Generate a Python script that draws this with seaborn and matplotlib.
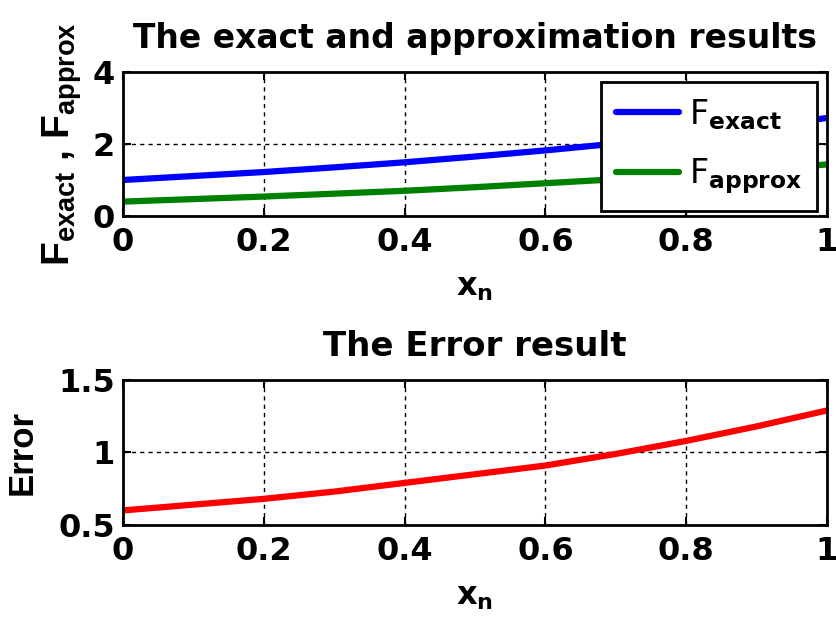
import matplotlib
matplotlib.use("Agg")
import matplotlib.pyplot as plt
import seaborn as sns
import pandas as pd

x_n = [0.0, 0.1, 0.2, 0.3, 0.4, 0.5, 0.6, 0.7, 0.8, 0.9, 1.0]
f_exact = [1.00, 1.11, 1.22, 1.35, 1.49, 1.65, 1.82, 2.01, 2.23, 2.46, 2.72]
f_approx = [0.40, 0.47, 0.54, 0.62, 0.70, 0.80, 0.91, 1.02, 1.15, 1.28, 1.43]
error = [0.60, 0.64, 0.68, 0.73, 0.79, 0.85, 0.91, 0.99, 1.08, 1.18, 1.29]

x_ticks = [0, 0.2, 0.4, 0.6, 0.8, 1]
x_tick_labels = ["0", "0.2", "0.4", "0.6", "0.8", "1"]
top_y_ticks = [0, 2, 4]
bot_y_ticks = [0.5, 1, 1.5]
bot_y_labels = ["0.5", "1", "1.5"]

sns.set_style("white")
plt.rcParams['font.family'] = ['DejaVu Sans']
plt.rcParams['mathtext.fontset'] = 'custom'
plt.rcParams['mathtext.rm'] = 'DejaVu Sans'
plt.rcParams['mathtext.it'] = 'DejaVu Sans'
plt.rcParams['mathtext.bf'] = 'DejaVu Sans:bold'
plt.rcParams['mathtext.sf'] = 'Liberation Sans:bold'
for k in ['text.color', 'axes.labelcolor', 'xtick.color', 'ytick.color']:
    plt.rcParams[k] = 'black'

df = pd.DataFrame({'x': x_n, 'exact': f_exact, 'approx': f_approx, 'err': error})

fig = plt.figure(figsize=(8.37, 6.19), dpi=100)
ax1 = fig.add_axes([0.147, 0.651, 0.841, 0.233])
ax2 = fig.add_axes([0.147, 0.152, 0.841, 0.234])


def style_axes(ax):
    ax.set_xlim(0, 1)
    ax.set_xticks(x_ticks)
    ax.set_xticklabels(x_tick_labels, fontsize=23, fontweight='bold')
    ax.grid(True, color='black', linestyle=(0, (3, 3)), linewidth=1.0)
    for s in ax.spines.values():
        s.set_color('black')
        s.set_linewidth(2.0)
    ax.tick_params(direction='in', length=6, width=1.5, color='black',
                   top=True, right=True, bottom=True, left=True)
    ax.tick_params(axis='x', pad=8)
    ax.tick_params(axis='y', pad=6)
    ax.set_axisbelow(True)


sns.lineplot(data=df, x='x', y='exact', ax=ax1, color='#0000ff', linewidth=4.5,
             label=r'F$_{\mathbf{exact}}$')
sns.lineplot(data=df, x='x', y='approx', ax=ax1, color='#008000', linewidth=4.5,
             label=r'F$_{\mathbf{approx}}$')
style_axes(ax1)
ax1.set_ylim(0, 4)
ax1.set_yticks(top_y_ticks)
ax1.set_yticklabels([str(t) for t in top_y_ticks], fontsize=23, fontweight='bold')
ax1.set_title("The exact and approximation results", fontsize=23.8, fontweight='bold', pad=17)
ax1.set_xlabel(r'$\mathbf{x_n}$', fontsize=23, labelpad=10)
ax1.set_ylabel(r'F$_{\mathsf{exact}}$ , F$_{\mathsf{approx}}$', fontsize=28,
               fontfamily='Liberation Sans', fontweight='bold', labelpad=6)
leg = ax1.legend(loc='upper right', fontsize=24, frameon=True, fancybox=False,
                 handlelength=1.9, borderaxespad=0.3, labelspacing=0.75,
                 handletextpad=0.3, borderpad=0.45)
leg.get_frame().set_edgecolor('black')
leg.get_frame().set_linewidth(2.0)
leg.get_frame().set_alpha(1)

sns.lineplot(data=df, x='x', y='err', ax=ax2, color='#ff0000', linewidth=4.5)
style_axes(ax2)
ax2.set_ylim(0.5, 1.5)
ax2.set_yticks(bot_y_ticks)
ax2.set_yticklabels(bot_y_labels, fontsize=23, fontweight='bold')
ax2.set_title("The Error result", fontsize=24.5, fontweight='bold', pad=17)
ax2.set_xlabel(r'$\mathbf{x_n}$', fontsize=23, labelpad=10)
ax2.set_ylabel('Error', fontsize=25, fontfamily='Liberation Sans', fontweight='bold', labelpad=14)

fig.savefig('out.png', dpi=100)
